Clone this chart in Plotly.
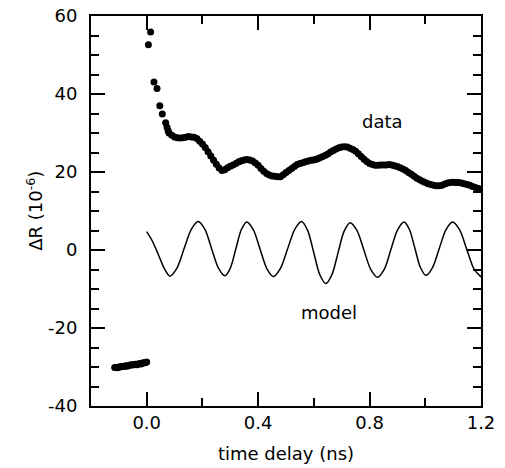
import plotly.graph_objects as go

# ---- data ----
pre_x = [-0.115, -0.110, -0.105, -0.100, -0.095, -0.090, -0.085, -0.080, -0.075, -0.070,
         -0.065, -0.060, -0.055, -0.050, -0.045, -0.040, -0.035, -0.030, -0.025, -0.020,
         -0.015, -0.010, -0.005, 0.000]
pre_y = [-30.1, -30.1, -30.2, -30.0, -30.0, -29.9, -29.9, -29.8, -29.7, -29.8,
         -29.6, -29.5, -29.5, -29.4, -29.4, -29.3, -29.4, -29.2, -29.1, -29.2,
         -29.0, -28.9, -28.9, -28.7]

early_x = [0.006, 0.014, 0.026, 0.037, 0.047, 0.056, 0.068, 0.073]
early_y = [52.6, 55.9, 43.1, 41.4, 37.0, 34.9, 32.6, 31.5]

post_x = [0.077, 0.08, 0.09, 0.10, 0.11, 0.12, 0.13, 0.14, 0.15, 0.16, 0.17,
          0.18, 0.19, 0.20, 0.21, 0.22, 0.23, 0.24, 0.25, 0.26, 0.27,
          0.28, 0.29, 0.30, 0.31, 0.32, 0.33, 0.34, 0.35, 0.36, 0.37,
          0.38, 0.39, 0.40, 0.41, 0.42, 0.43, 0.44, 0.45, 0.46, 0.47,
          0.48, 0.49, 0.50, 0.51, 0.52, 0.53, 0.54, 0.55, 0.56, 0.57,
          0.58, 0.59, 0.60, 0.61, 0.62, 0.63, 0.64, 0.65, 0.66, 0.67,
          0.68, 0.69, 0.70, 0.71, 0.72, 0.73, 0.74, 0.75, 0.76, 0.77,
          0.78, 0.79, 0.80, 0.81, 0.82, 0.83, 0.84, 0.85, 0.86, 0.87,
          0.88, 0.89, 0.90, 0.91, 0.92, 0.93, 0.94, 0.95, 0.96, 0.97,
          0.98, 0.99, 1.00, 1.01, 1.02, 1.03, 1.04, 1.05, 1.06, 1.07,
          1.08, 1.09, 1.10, 1.11, 1.12, 1.13, 1.14, 1.15, 1.16, 1.17,
          1.18, 1.19, 1.20]
post_y = [30.6, 30.0, 29.4, 29.0, 28.8, 28.7, 28.8, 28.9, 29.1, 29.0, 28.9,
          28.6, 27.9, 27.2, 26.3, 25.2, 24.1, 23.0, 22.0, 21.0, 20.4,
          20.6, 21.1, 21.5, 21.8, 22.2, 22.6, 22.9, 23.1, 23.2, 23.1,
          22.8, 22.3, 21.7, 20.9, 20.2, 19.6, 19.2, 19.0, 18.9, 18.8,
          18.8, 19.3, 19.9, 20.4, 20.9, 21.4, 21.9, 22.2, 22.4, 22.6,
          22.8, 23.0, 23.1, 23.3, 23.6, 23.9, 24.2, 24.6, 25.1, 25.5,
          25.9, 26.2, 26.4, 26.5, 26.4, 26.1, 25.8, 25.3, 24.7, 24.0,
          23.3, 22.7, 22.2, 21.9, 21.7, 21.7, 21.8, 21.8, 21.8, 21.9,
          21.8, 21.6, 21.4, 21.1, 20.8, 20.4, 19.9, 19.4, 18.9, 18.4,
          18.0, 17.6, 17.3, 17.0, 16.8, 16.6, 16.5, 16.5, 16.6, 16.9,
          17.2, 17.3, 17.4, 17.3, 17.3, 17.2, 17.0, 16.8, 16.6, 16.3,
          16.0, 15.8, 15.6]

# model curve: points read along the drawn oscillation
model_x = [0.000, 0.020, 0.042, 0.062, 0.083,
           0.1085, 0.134, 0.1595, 0.185,
           0.209, 0.233, 0.257, 0.281,
           0.3005, 0.320, 0.3395, 0.359,
           0.383, 0.407, 0.431, 0.455,
           0.480, 0.5055, 0.531, 0.556,
           0.578, 0.5995, 0.621, 0.643,
           0.665, 0.6865, 0.708, 0.730,
           0.755, 0.7795, 0.804, 0.829,
           0.853, 0.8765, 0.900, 0.924,
           0.9435, 0.963, 0.9825, 1.002,
           1.026, 1.050, 1.074, 1.098,
           1.1235, 1.149, 1.1745, 1.200]
model_y = [4.7, 2.3, -1.2, -4.6, -6.7,
           -4.65, 0.3, 5.25, 7.3,
           5.26, 0.35, -4.56, -6.6,
           -4.58, 0.3, 5.18, 7.2,
           5.15, 0.2, -4.75, -6.8,
           -4.74, 0.25, 5.24, 7.3,
           4.97, -0.65, -6.27, -8.6,
           -6.32, -0.8, 4.72, 7.0,
           4.95, 0.0, -4.95, -7.0,
           -4.92, 0.1, 5.12, 7.2,
           5.19, 0.35, -4.49, -6.5,
           -4.49, 0.35, 5.19, 7.2,
           5.14, 0.15, -4.84, -6.9]

x_ticks = [0.0, 0.4, 0.8, 1.2]
x_ticklabels = ["0.0", "0.4", "0.8", "1.2"]
y_ticks = [-40, -20, 0, 20, 40, 60]
y_ticklabels = ["-40", "-20", "0", "20", "40", "60"]

FONT = "DejaVu Sans"

fig = go.Figure()
marker = dict(color="black", size=7)
band = dict(color="black", width=5)
fig.add_trace(go.Scatter(x=pre_x, y=pre_y, mode="lines+markers", marker=marker, line=band,
                         showlegend=False))
fig.add_trace(go.Scatter(x=early_x, y=early_y, mode="markers", marker=marker, showlegend=False))
fig.add_trace(go.Scatter(x=post_x, y=post_y, mode="lines+markers", marker=marker, line=band,
                         showlegend=False))
fig.add_trace(go.Scatter(x=model_x, y=model_y, mode="lines",
                         line=dict(color="black", width=1.5, shape="spline", smoothing=0.8),
                         showlegend=False))

fig.add_annotation(x=0.845, y=33.0, text="data", showarrow=False,
                   font=dict(family=FONT, size=18, color="black"))
fig.add_annotation(x=0.655, y=-15.9, text="model", showarrow=False,
                   font=dict(family=FONT, size=18, color="black"))
# y-axis title placed as a rotated label left of the tick labels
fig.add_annotation(xref="paper", yref="paper", x=-0.144, y=0.5, xanchor="center",
                   yanchor="middle", textangle=-90, showarrow=False,
                   text="ΔR (10<sup>-6</sup>)", font=dict(family=FONT, size=18, color="black"))

axis_common = dict(showline=True, linecolor="black", linewidth=2, mirror="ticks",
                   ticks="inside", tickcolor="black", tickwidth=1.5, ticklen=14,
                   showgrid=False, zeroline=False, automargin=False,
                   ticklabeloverflow="allow",
                   tickfont=dict(family=FONT, size=18, color="black"))

fig.update_xaxes(range=[-0.2, 1.2], tickvals=x_ticks, ticktext=x_ticklabels,
                 minor=dict(ticks="inside", dtick=0.2, tick0=0, ticklen=8, tickwidth=1.5,
                            tickcolor="black", showgrid=False),
                 ticklabelstandoff=-1,
                 title=dict(text="time delay (ns)", font=dict(family=FONT, size=18, color="black"),
                            standoff=16),
                 **axis_common)
fig.update_yaxes(range=[-40, 60], tickvals=y_ticks, ticktext=y_ticklabels,
                 minor=dict(ticks="inside", dtick=5, tick0=0, ticklen=8, tickwidth=1.5,
                            tickcolor="black", showgrid=False),
                 ticklabelstandoff=8,
                 **axis_common)

fig.update_layout(width=497, height=460, margin=dict(l=83, r=24, t=8, b=62),
                  paper_bgcolor="white", plot_bgcolor="white",
                  font=dict(family=FONT, size=18, color="black"))

fig.write_html("out.html")
